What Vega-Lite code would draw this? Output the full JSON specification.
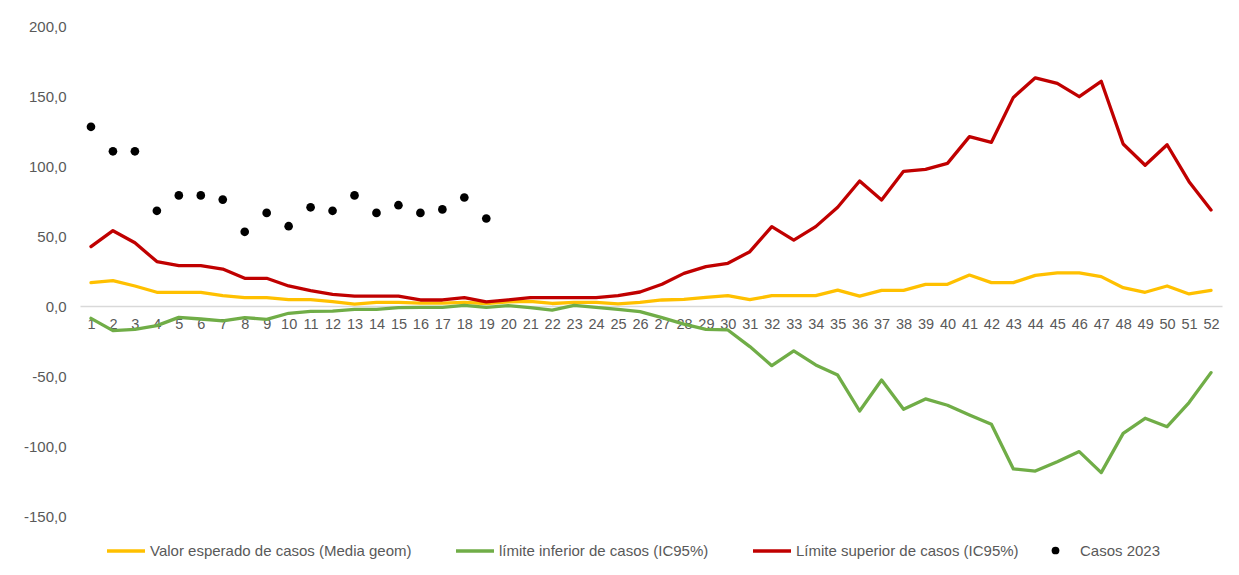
{
  "$schema": "https://vega.github.io/schema/vega-lite/v6.json",
  "autosize": {"type": "none"},
  "width": 1142,
  "height": 490,
  "padding": {"left": 80, "top": 26, "right": 17, "bottom": 59},
  "background": "white",
  "config": {
    "view": {"stroke": null},
    "font": "Liberation Sans"
  },
  "data": {
    "values": [
      {"semana": 1, "esperado": 16.7, "inferior": -8.8, "superior": 42.4, "casos": 128},
      {"semana": 2, "esperado": 18.1, "inferior": -17.6, "superior": 53.8, "casos": 110.5},
      {"semana": 3, "esperado": 14.3, "inferior": -16.7, "superior": 45.2, "casos": 110.5},
      {"semana": 4, "esperado": 9.8, "inferior": -14.0, "superior": 31.7, "casos": 68},
      {"semana": 5, "esperado": 9.8, "inferior": -8.1, "superior": 28.8, "casos": 79},
      {"semana": 6, "esperado": 9.8, "inferior": -9.3, "superior": 28.8, "casos": 79},
      {"semana": 7, "esperado": 7.4, "inferior": -10.7, "superior": 26.4, "casos": 76},
      {"semana": 8, "esperado": 6.0, "inferior": -8.3, "superior": 19.8, "casos": 53},
      {"semana": 9, "esperado": 6.0, "inferior": -9.5, "superior": 19.8, "casos": 66.5},
      {"semana": 10, "esperado": 4.5, "inferior": -5.2, "superior": 14.3, "casos": 57},
      {"semana": 11, "esperado": 4.5, "inferior": -3.8, "superior": 11.0, "casos": 70.5},
      {"semana": 12, "esperado": 3.1, "inferior": -3.6, "superior": 8.3, "casos": 68},
      {"semana": 13, "esperado": 1.4, "inferior": -2.4, "superior": 7.1, "casos": 79},
      {"semana": 14, "esperado": 2.6, "inferior": -2.4, "superior": 7.1, "casos": 66.5},
      {"semana": 15, "esperado": 2.6, "inferior": -1.2, "superior": 7.1, "casos": 72},
      {"semana": 16, "esperado": 2.0, "inferior": -1.0, "superior": 4.3, "casos": 66.5},
      {"semana": 17, "esperado": 2.0, "inferior": -1.0, "superior": 4.3, "casos": 69},
      {"semana": 18, "esperado": 2.6, "inferior": 0.5, "superior": 6.0, "casos": 77.5},
      {"semana": 19, "esperado": 1.8, "inferior": -1.0, "superior": 2.9, "casos": 62.5},
      {"semana": 20, "esperado": 3.0, "inferior": 0.2, "superior": 4.3, "casos": null},
      {"semana": 21, "esperado": 3.3, "inferior": -1.2, "superior": 6.0, "casos": null},
      {"semana": 22, "esperado": 1.8, "inferior": -2.9, "superior": 6.0, "casos": null},
      {"semana": 23, "esperado": 2.6, "inferior": 0.5, "superior": 6.0, "casos": null},
      {"semana": 24, "esperado": 2.6, "inferior": -1.0, "superior": 6.0, "casos": null},
      {"semana": 25, "esperado": 1.5, "inferior": -2.4, "superior": 7.4, "casos": null},
      {"semana": 26, "esperado": 2.6, "inferior": -4.0, "superior": 10.0, "casos": null},
      {"semana": 27, "esperado": 4.3, "inferior": -8.3, "superior": 15.5, "casos": null},
      {"semana": 28, "esperado": 4.8, "inferior": -12.9, "superior": 23.3, "casos": null},
      {"semana": 29, "esperado": 6.2, "inferior": -16.7, "superior": 28.1, "casos": null},
      {"semana": 30, "esperado": 7.4, "inferior": -17.1, "superior": 30.5, "casos": null},
      {"semana": 31, "esperado": 4.5, "inferior": -29.0, "superior": 38.8, "casos": null},
      {"semana": 32, "esperado": 7.4, "inferior": -42.6, "superior": 56.7, "casos": null},
      {"semana": 33, "esperado": 7.4, "inferior": -32.1, "superior": 47.1, "casos": null},
      {"semana": 34, "esperado": 7.4, "inferior": -42.1, "superior": 56.7, "casos": null},
      {"semana": 35, "esperado": 11.4, "inferior": -49.3, "superior": 70.5, "casos": null},
      {"semana": 36, "esperado": 7.1, "inferior": -75.0, "superior": 89.3, "casos": null},
      {"semana": 37, "esperado": 11.2, "inferior": -52.9, "superior": 75.7, "casos": null},
      {"semana": 38, "esperado": 11.2, "inferior": -73.8, "superior": 96.2, "casos": null},
      {"semana": 39, "esperado": 15.5, "inferior": -66.4, "superior": 97.6, "casos": null},
      {"semana": 40, "esperado": 15.5, "inferior": -70.9, "superior": 101.9, "casos": null},
      {"semana": 41, "esperado": 22.1, "inferior": -77.9, "superior": 121.0, "casos": null},
      {"semana": 42, "esperado": 16.7, "inferior": -84.5, "superior": 116.9, "casos": null},
      {"semana": 43, "esperado": 16.7, "inferior": -116.4, "superior": 149.0, "casos": null},
      {"semana": 44, "esperado": 21.9, "inferior": -117.9, "superior": 163.0, "casos": null},
      {"semana": 45, "esperado": 23.6, "inferior": -111.2, "superior": 159.0, "casos": null},
      {"semana": 46, "esperado": 23.6, "inferior": -104.0, "superior": 149.5, "casos": null},
      {"semana": 47, "esperado": 21.0, "inferior": -119.0, "superior": 160.5, "casos": null},
      {"semana": 48, "esperado": 13.1, "inferior": -91.0, "superior": 115.7, "casos": null},
      {"semana": 49, "esperado": 9.8, "inferior": -80.2, "superior": 100.5, "casos": null},
      {"semana": 50, "esperado": 14.3, "inferior": -86.2, "superior": 115.2, "casos": null},
      {"semana": 51, "esperado": 8.6, "inferior": -69.0, "superior": 88.8, "casos": null},
      {"semana": 52, "esperado": 11.2, "inferior": -47.6, "superior": 68.6, "casos": null}
    ]
  },
  "encoding": {
    "x": {
      "field": "semana",
      "type": "ordinal",
      "scale": {"type": "point", "padding": 0.5},
      "axis": {
        "title": null,
        "labelAngle": 0,
        "ticks": false,
        "offset": -210,
        "domainColor": "#d9d9d9",
        "domainWidth": 1.3,
        "labelColor": "#595959",
        "labelFontSize": 14.5,
        "labelPadding": 11,
        "labelFont": "Liberation Sans",
        "labelOverlap": false,
        "zindex": 0
      }
    }
  },
  "layer": [
    {
      "transform": [
        {"fold": ["esperado", "inferior", "superior"], "as": ["serie", "valor"]}
      ],
      "mark": {"type": "line", "strokeWidth": 3.3, "strokeJoin": "round", "strokeCap": "round"},
      "encoding": {
        "y": {
          "field": "valor",
          "type": "quantitative",
          "scale": {"domain": [-150, 200], "nice": false, "zero": false},
          "axis": {
            "title": null,
            "values": [-150, -100, -50, 0, 50, 100, 150, 200],
            "domain": false,
            "ticks": false,
            "grid": false,
            "labelColor": "#595959",
            "labelFontSize": 15,
            "labelPadding": 14,
            "labelFont": "Liberation Sans",
            "labelExpr": "(datum.value < 0 ? '-' : '') + replace(format(abs(datum.value), '.1f'), '.', ',')"
          }
        },
        "color": {
          "field": "serie",
          "type": "nominal",
          "scale": {
            "domain": ["esperado", "inferior", "superior"],
            "range": ["#FFC000", "#70AD47", "#C00000"]
          },
          "legend": {
            "title": null,
            "orient": "none",
            "direction": "horizontal",
            "legendX": 25,
            "legendY": 504,
            "padding": 0,
            "symbolType": "stroke",
            "symbolSize": 1444,
            "symbolStrokeWidth": 3.3,
            "labelFontSize": 15,
            "labelFont": "Liberation Sans",
            "labelColor": "#595959",
            "labelOffset": 3,
            "labelLimit": 400,
            "columnPadding": 37,
            "labelExpr": "datum.label == 'esperado' ? 'Valor esperado de casos (Media geom)' : datum.label == 'inferior' ? 'límite inferior de casos (IC95%)' : 'Límite superior de casos (IC95%)'"
          }
        },
        "order": {"field": "semana", "type": "quantitative"}
      }
    },
    {
      "transform": [{"filter": "isValid(datum.casos)"}],
      "mark": {"type": "point", "filled": true, "size": 75, "opacity": 1, "color": "black"},
      "encoding": {
        "y": {"field": "casos", "type": "quantitative"},
        "shape": {
          "datum": "Casos 2023",
          "type": "nominal",
          "scale": {"range": ["circle"]},
          "legend": {
            "title": null,
            "orient": "none",
            "legendX": 968,
            "legendY": 517,
            "padding": 0,
            "symbolFillColor": "black",
            "symbolStrokeColor": "black",
            "symbolSize": 60,
            "labelFontSize": 15,
            "labelFont": "Liberation Sans",
            "labelColor": "#595959",
            "labelOffset": 17
          }
        }
      }
    }
  ]
}
